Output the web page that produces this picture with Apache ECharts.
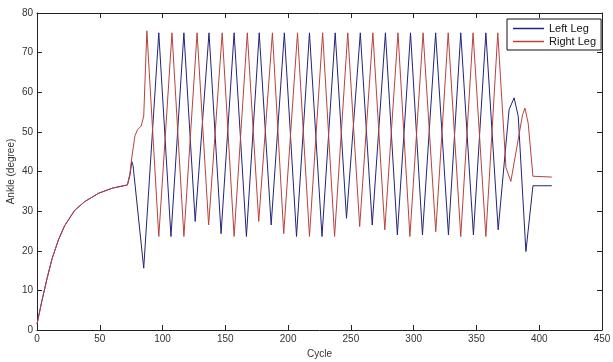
<!DOCTYPE html>
<html>
<head>
<meta charset="utf-8">
<script src="https://cdn.jsdelivr.net/npm/echarts@6/dist/echarts.min.js"></script>
<style>
	html, body { margin: 0; padding: 0; background: #fff; }
	#chart { width: 613px; height: 362px; }
</style>
</head>
<body>
<div id="chart"></div>
<script>
// shared start-up ramp (both legs overlap here)
const rampCycle = [0, 2, 4, 8, 12, 17, 22, 30, 38, 49, 60, 72];
const rampAngle = [1.5, 4.5, 7.5, 13, 18, 22.7, 26.3, 30.2, 32.4, 34.5, 35.8, 36.6];

// left leg after the ramp
const leftCycle = [74, 75.5, 76.5, 85, 97, 106.7, 117, 126, 137, 146.6, 157, 166.8, 177, 186.5, 197, 206.7, 217, 227, 237.5, 246.5, 257.5, 267, 277.5, 287, 297.5, 307, 317.5, 327.7, 337.5, 347.6, 357.5, 367.3, 376, 380, 383.3, 389.4, 395, 410];
const leftAngle = [39, 42.5, 41.5, 15.6, 75, 23.6, 75, 27.4, 75, 24.3, 75, 23.6, 75, 26.5, 75, 23.6, 75, 23.6, 75, 28.2, 75, 26.5, 75, 24, 75, 24, 75, 24, 75, 24, 75, 25.3, 55.6, 58.6, 53.9, 19.8, 36.4, 36.4];

// right leg after the ramp
const rightCycle = [74, 75.5, 78, 80, 83, 85, 87.5, 97, 107.5, 117, 127.5, 136.7, 147.5, 157, 167.5, 176.6, 187.5, 196.5, 207.5, 217, 227.5, 237, 247.5, 257, 267.5, 277, 287.5, 297, 307.5, 317.6, 327.5, 337.5, 347.3, 357.5, 367, 373.5, 377.4, 386.7, 388.6, 391.2, 395, 410];
const rightAngle = [39.5, 43.5, 49, 50.5, 51.5, 54, 75.5, 23.6, 75, 23.6, 75, 26.5, 75, 23.6, 75, 27.4, 75, 24.3, 75, 23.6, 75, 23.6, 75, 26.1, 75, 25.3, 75, 23.6, 75, 24.8, 75, 23.6, 75, 23.6, 75, 41, 37.5, 54.3, 56, 52.2, 38.8, 38.6];

const xMin = 0, xMax = 450, xStep = 50;
const yMin = 0, yMax = 80, yStep = 10;

const toPairs = (xs, ys) => xs.map((x, i) => [x, ys[i]]);
const leftData = toPairs(rampCycle, rampAngle).concat(toPairs(leftCycle, leftAngle));
const rightData = toPairs(rampCycle, rampAngle).concat(toPairs(rightCycle, rightAngle));

const font = "'Liberation Sans', Arial, sans-serif";
const axisColor = "#222";
const labelColor = "#333";

const axisBase = {
	type: "value",
	splitLine: { show: false },
	axisLine: { show: true, onZero: false, lineStyle: { color: axisColor, width: 1 } },
	axisTick: { show: true, inside: true, length: 5, lineStyle: { color: axisColor } },
};
const baseX = { ...axisBase, min: xMin, max: xMax, interval: xStep };
const baseY = { ...axisBase, min: yMin, max: yMax, interval: yStep };

const chart = echarts.init(document.getElementById("chart"));
chart.setOption({
	animation: false,
	backgroundColor: "#fff",
	textStyle: { fontFamily: font },
	grid: { left: 37, right: 11, top: 13, bottom: 32, outerBoundsMode: "none", containLabel: false },
	legend: {
		left: 507,
		top: 19,
		orient: "vertical",
		backgroundColor: "#fff",
		borderColor: "#111",
		borderWidth: 1,
		padding: [4, 5, 3, 6],
		itemGap: 2,
		itemWidth: 31,
		itemHeight: 1.5,
		icon: "rect",
		textStyle: { fontFamily: font, fontSize: 11, color: "#111" },
		data: ["Left Leg", "Right Leg"],
	},
	xAxis: [
		{
			...baseX,
			position: "bottom",
			name: "Cycle",
			nameLocation: "middle",
			nameGap: 19,
			nameTextStyle: { fontFamily: font, fontSize: 10, color: labelColor },
			axisLabel: { fontFamily: font, fontSize: 10, color: labelColor, margin: 4 },
		},
		{ ...baseX, position: "top", axisLabel: { show: false } },
	],
	yAxis: [
		{
			...baseY,
			position: "left",
			name: "Ankle (degree)",
			nameLocation: "middle",
			nameGap: 21,
			nameMoveOverlap: false,
			nameTextStyle: { fontFamily: font, fontSize: 10, color: labelColor },
			axisLabel: { fontFamily: font, fontSize: 10, color: labelColor, margin: 4 },
		},
		{ ...baseY, position: "right", axisLabel: { show: false } },
	],
	series: [
		{
			name: "Left Leg",
			type: "line",
			data: leftData,
			showSymbol: false,
			symbol: "none",
			lineStyle: { color: "#23237a", width: 1 },
			itemStyle: { color: "#23237a" },
		},
		{
			name: "Right Leg",
			type: "line",
			data: rightData,
			showSymbol: false,
			symbol: "none",
			lineStyle: { color: "#b8423f", width: 1 },
			itemStyle: { color: "#b8423f" },
		},
	],
});
</script>
</body>
</html>
